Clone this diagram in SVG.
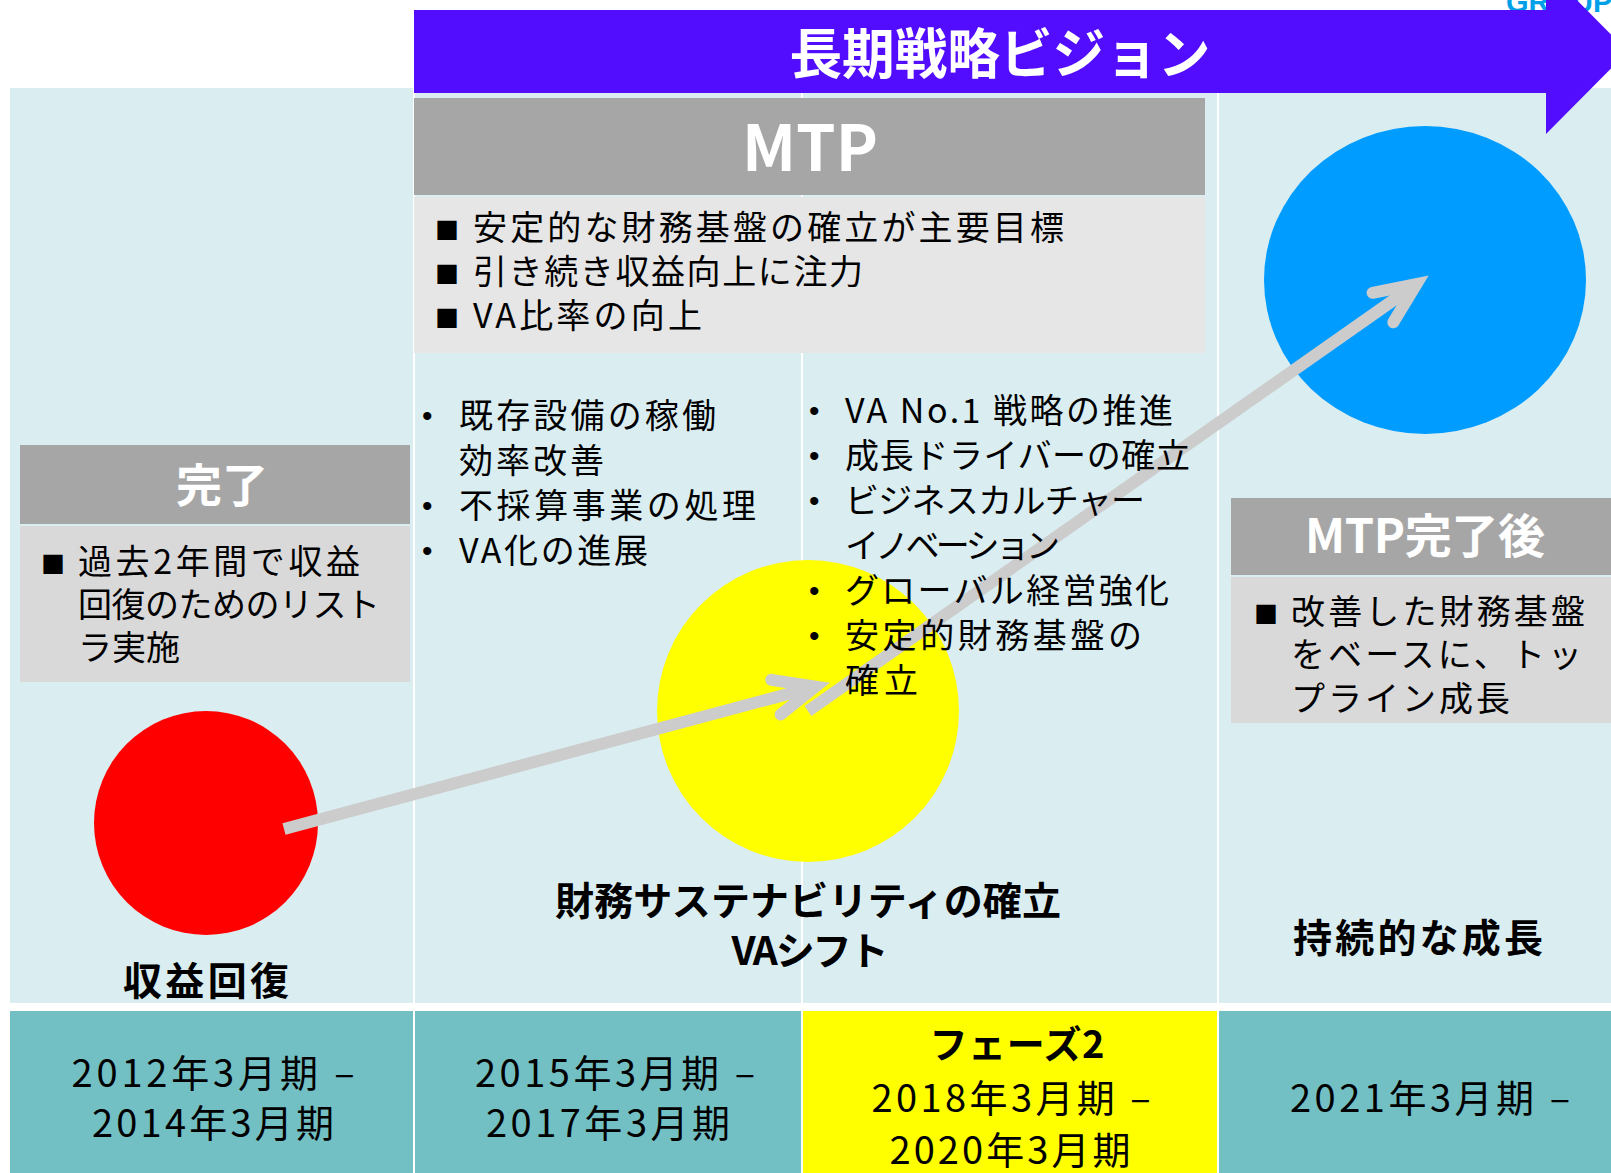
<svg xmlns="http://www.w3.org/2000/svg" width="1611" height="1173" viewBox="0 0 1611 1173">
<style>
text{font-family:"Noto Sans CJK JP","Noto Sans",sans-serif;}
.w{fill:#ffffff;font-weight:bold;}
.b{fill:#000000;font-size:34px;}
.sq{fill:#000000;font-size:24px;}
.bul{fill:#000000;font-size:30px;font-family:"Liberation Sans",sans-serif;}
.lbl{fill:#000000;font-weight:bold;font-size:39px;text-anchor:middle;}
.date{fill:#000000;font-size:38px;text-anchor:middle;}
.hdr{fill:#A6A6A6;}
.conn{fill:none;stroke:#CCCCCC;stroke-width:12;marker-end:url(#chev);}
.div{stroke:#ffffff;stroke-width:2;}
</style>
<defs>
<marker id="chev" markerUnits="userSpaceOnUse" viewBox="-70 -40 100 80" refX="0" refY="0" markerWidth="100" markerHeight="80" orient="auto" overflow="visible">
<path d="M-41,-18 L0,0 L-41,18" fill="none" stroke="#CCCCCC" stroke-width="12" stroke-linecap="round" stroke-linejoin="miter"/>
</marker>
</defs>
<rect x="0" y="0" width="1611" height="1173" fill="#ffffff"/>
<g id="background">
<rect x="10" y="88" width="1601" height="915" fill="#DAEDF0"/>
<rect x="10" y="1011" width="1601" height="162" fill="#72BFC4"/>
<rect x="803" y="1011" width="415" height="162" fill="#FFFF00"/>
<line class="div" x1="414" y1="88" x2="414" y2="1003"/>
<line class="div" x1="802" y1="88" x2="802" y2="1003"/>
<line class="div" x1="1218" y1="88" x2="1218" y2="1003"/>
<line class="div" x1="414" y1="1011" x2="414" y2="1173"/>
<line class="div" x1="802" y1="1011" x2="802" y2="1173"/>
<line class="div" x1="1218" y1="1011" x2="1218" y2="1173"/>
</g>
<text x="1506" y="12" font-size="29" font-weight="bold" fill="#00A0E9" style="font-family:'Liberation Sans',sans-serif">GROUP</text>
<g id="vision-arrow">
<polygon points="414,10 1546,10 1546,-31 1628,51.5 1546,134 1546,93 414,93" fill="#520DFF"/>
<text class="w" x="1000" y="74" font-size="54" text-anchor="middle" textLength="421" lengthAdjust="spacingAndGlyphs">長期戦略ビジョン</text>
</g>
<g id="mtp">
<rect class="hdr" x="414" y="98" width="791" height="97"/>
<rect x="414" y="197" width="791" height="156" fill="#E6E6E6"/>
<text class="w" x="810" y="171" font-size="64" text-anchor="middle" textLength="136" lengthAdjust="spacingAndGlyphs">MTP</text>
<text class="sq" x="435" y="239">■</text>
<text class="b" x="473" y="240" textLength="591">安定的な財務基盤の確立が主要目標</text>
<text class="sq" x="435" y="283">■</text>
<text class="b" x="473" y="284" textLength="390">引き続き収益向上に注力</text>
<text class="sq" x="435" y="327">■</text>
<text class="b" x="473" y="328" textLength="229">VA比率の向上</text>
</g>
<g id="kanryo">
<rect class="hdr" x="20" y="445" width="390" height="79"/>
<rect x="20" y="526" width="390" height="156" fill="#D9D9D9"/>
<text class="w" x="222" y="502" font-size="46" text-anchor="middle" textLength="92">完了</text>
<text class="sq" x="41" y="573">■</text>
<text class="b" x="78" y="574" textLength="282">過去2年間で収益</text>
<text class="b" x="78" y="617" textLength="302">回復のためのリスト</text>
<text class="b" x="78" y="660" textLength="102">ラ実施</text>
</g>
<g id="post-mtp">
<rect class="hdr" x="1231" y="498" width="380" height="77"/>
<rect x="1231" y="577" width="380" height="146" fill="#D9D9D9"/>
<text class="w" x="1305" y="553" font-size="47" textLength="240">MTP完了後</text>
<text class="sq" x="1254" y="623">■</text>
<text class="b" x="1291" y="624" textLength="294">改善した財務基盤</text>
<text class="b" x="1291" y="667" textLength="291">をベースに、トッ</text>
<text class="b" x="1291" y="711" textLength="219">プライン成長</text>
</g>
<g id="phase1">
<circle cx="206" cy="823" r="112" fill="#FF0000"/>
<text class="lbl" x="206" y="995" font-size="41" textLength="166">収益回復</text>
</g>
<g id="phase2">
<circle cx="808" cy="711" r="151" fill="#FFFF00"/>
<text class="lbl" x="808" y="915" textLength="506">財務サステナビリティの確立</text>
<text class="lbl" x="810" y="965" textLength="157">VAシフト</text>
</g>
<g id="phase3">
<ellipse cx="1425" cy="280" rx="161" ry="154" fill="#009CFF"/>
<text class="lbl" x="1418" y="952" font-size="41" textLength="250">持続的な成長</text>
</g>
<g id="connectors">
<line class="conn" x1="284" y1="829" x2="815.5" y2="686.6"/>
<line class="conn" x1="808" y1="711" x2="1416.5" y2="284"/>
</g>
<g id="bullets-left">
<text class="bul" x="422" y="426">•</text>
<text class="b" x="459" y="428" textLength="257">既存設備の稼働</text>
<text class="b" x="459" y="473" textLength="145">効率改善</text>
<text class="bul" x="422" y="516">•</text>
<text class="b" x="459" y="518" textLength="297">不採算事業の処理</text>
<text class="bul" x="422" y="561">•</text>
<text class="b" x="459" y="563" textLength="189">VA化の進展</text>
</g>
<g id="bullets-right">
<text class="bul" x="809" y="421">•</text>
<text class="b" x="845" y="423" textLength="328">VA No.1 戦略の推進</text>
<text class="bul" x="809" y="466">•</text>
<text class="b" x="845" y="468" textLength="345">成長ドライバーの確立</text>
<text class="bul" x="809" y="511">•</text>
<text class="b" x="845" y="513" textLength="300">ビジネスカルチャー</text>
<text class="b" x="845" y="558" textLength="215">イノベーション</text>
<text class="bul" x="809" y="601">•</text>
<text class="b" x="845" y="603" textLength="324">グローバル経営強化</text>
<text class="bul" x="809" y="646">•</text>
<text class="b" x="845" y="648" textLength="297">安定的財務基盤の</text>
<text class="b" x="845" y="693" textLength="73">確立</text>
</g>
<g id="periods">
<text class="date" x="213" y="1087" textLength="283">2012年3月期 –</text>
<text class="date" x="213" y="1137" textLength="242">2014年3月期</text>
<text class="date" x="615" y="1087" textLength="280">2015年3月期 –</text>
<text class="date" x="608" y="1137" textLength="244">2017年3月期</text>
<text class="date" x="1017" y="1058" font-weight="bold" textLength="175">フェーズ2</text>
<text class="date" x="1011" y="1112" textLength="279">2018年3月期 –</text>
<text class="date" x="1010" y="1164" textLength="241">2020年3月期</text>
<text class="date" x="1430" y="1112" textLength="280">2021年3月期 –</text>
</g>
</svg>
